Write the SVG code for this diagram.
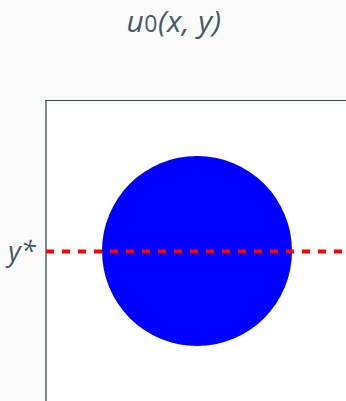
<svg xmlns="http://www.w3.org/2000/svg" width="346" height="401" viewBox="0 0 346 401">
<style>
.t{font-family:"Open Sans","Liberation Sans",sans-serif;fill:#455a64;font-style:italic}
</style>
<rect width="346" height="401" fill="#fafafa"/>
<g id="plot">
<rect x="45.5" y="100.5" width="310" height="310" fill="#ffffff" stroke="#37474f" stroke-width="1"/>
<line x1="46" y1="101" x2="46" y2="401" stroke="#7f8c8d" stroke-width="2"/>
<circle cx="197" cy="251" r="95" fill="#0000ff"/>
</g>
<g id="connectors">
<line x1="46" y1="251.5" x2="346" y2="251.5" stroke="#ff0000" stroke-width="4" stroke-dasharray="8 8"/>
</g>
<g id="labels">
<text class="t" x="174" y="32" font-size="30" letter-spacing="0.5" text-anchor="middle">u<tspan font-style="normal" font-size="23">0</tspan>(x, y)</text>
<text class="t" x="22" y="261" font-size="27" text-anchor="middle">y*</text>
</g>
</svg>
